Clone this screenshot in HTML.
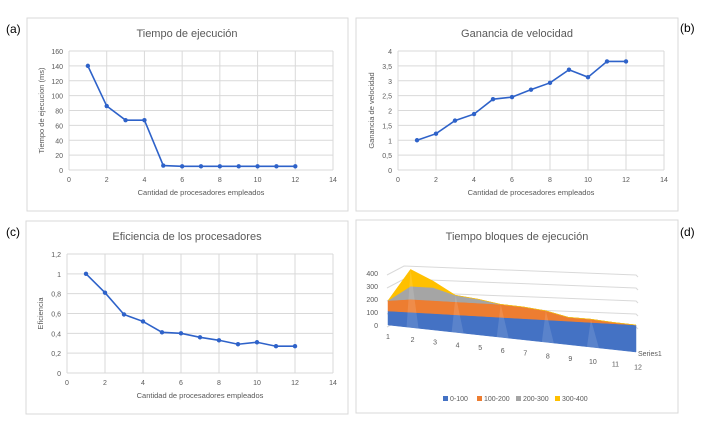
<!DOCTYPE html>
<html><head><meta charset="utf-8"><style>
body{margin:0;background:#fff;width:702px;height:432px;overflow:hidden;font-family:"Liberation Sans",sans-serif}
svg{position:absolute;left:0;top:0}
</style></head><body>
<svg id="s" width="702" height="432" xmlns="http://www.w3.org/2000/svg" font-family="Liberation Sans, sans-serif"></svg>
<script>
const cats=[1,2,3,4,5,6,7,8,9,10,11,12];
const timeVals=[140,86,67,67,6,5,5,5,5,5,5,5];
const speedVals=[1,1.22,1.66,1.88,2.38,2.45,2.7,2.93,3.37,3.12,3.65,3.65];
const effVals=[1,0.81,0.59,0.52,0.41,0.40,0.36,0.33,0.29,0.31,0.27,0.27];
const xTicks=[0,2,4,6,8,10,12,14];
const timeTicks=[0,20,40,60,80,100,120,140,160];
const speedTicks=[0,0.5,1,1.5,2,2.5,3,3.5,4];
const effTicks=[0,0.2,0.4,0.6,0.8,1,1.2];
const blockVals=[180,430,350,250,230,200,190,170,130,125,110,100];
const blockBands=[[0,100,'#4472c4','0-100'],[100,200,'#ed7d31','100-200'],[200,300,'#a5a5a5','200-300'],[300,500,'#ffc000','300-400']];
const blockTicks=[0,100,200,300,400];

const S=document.getElementById('s');
function el(t,a,p){const e=document.createElementNS('http://www.w3.org/2000/svg',t);for(const k in a)e.setAttribute(k,a[k]);(p||S).appendChild(e);return e;}
function fmt(v){return String(v).replace('.',',');}

function lineChart(o){
  const g=el('g',{});
  
  
  const fr=el('rect',{x:o.bx,y:o.by,width:o.bw,height:o.bh,fill:'#fff',stroke:'#d9d9d9'},g);
  
  
  const X=v=>o.x0+(v-0)/14*(o.x1-o.x0);
  const ymax=o.yt[o.yt.length-1];
  const Y=v=>o.y0-(v/ymax)*(o.y0-o.y1);
  o.yt.forEach(t=>{const l=el('line',{x1:o.x0,x2:o.x1,y1:Y(t),y2:Y(t),stroke:'#d9d9d9','stroke-width':1},g);
    
    const tx=el('text',{x:o.x0-6,y:Y(t)+3,'font-size':7,fill:'#595959','text-anchor':'end'},g);tx.textContent=fmt(t);
    });
  xTicks.forEach(t=>{const l=el('line',{x1:X(t),x2:X(t),y1:o.y1,y2:o.y0,stroke:'#d9d9d9'},g);
    
    const tx=el('text',{x:X(t),y:o.y0+12,'font-size':7,fill:'#595959','text-anchor':'middle'},g);tx.textContent=t;
    });
  const pts=cats.map((c,i)=>X(c)+','+Y(o.vals[i])).join(' ');
  const pl=el('polyline',{points:pts,fill:'none',stroke:'#2e62c9','stroke-width':1.6},g);
  
  cats.forEach((c,i)=>{const m=el('circle',{cx:X(c),cy:Y(o.vals[i]),r:2.2,fill:'#2e62c9'},g);
    });
  const t=el('text',{x:o.tx,y:o.ty,'font-size':11,fill:'#595959','text-anchor':'middle'},g);t.textContent=o.title;
  
  const xt=el('text',{x:(o.x0+o.x1)/2,y:o.y0+25,'font-size':7.5,fill:'#595959','text-anchor':'middle'},g);xt.textContent='Cantidad de procesadores empleados';
  
  const yt=el('text',{x:o.ytx,y:(o.y0+o.y1)/2,'font-size':7.5,fill:'#595959','text-anchor':'middle',transform:`rotate(-90 ${o.ytx} ${(o.y0+o.y1)/2})`},g);yt.textContent=o.ytitle;
  
  const lb=el('text',{x:o.lx,y:o.ly,'font-size':12,fill:'#000'},g);lb.textContent=o.label;
  
}
lineChart({name:'chart-a',bx:27,by:18,bw:321,bh:193,x0:69,x1:333,y0:170,y1:51,yt:timeTicks,vals:timeVals,title:'Tiempo de ejecución',tx:187,ty:37,ytitle:'Tiempo de ejecucion (ms)',ytx:44,label:'(a)',lx:6,ly:33});
lineChart({name:'chart-b',bx:356,by:18,bw:322,bh:193,x0:398,x1:664,y0:170,y1:51,yt:speedTicks,vals:speedVals,title:'Ganancia de velocidad',tx:517,ty:37,ytitle:'Ganancia de velocidad',ytx:374,label:'(b)',lx:680,ly:32});
lineChart({name:'chart-c',bx:26,by:221,bw:322,bh:193,x0:67,x1:333,y0:373,y1:254,yt:effTicks,vals:effVals,title:'Eficiencia de los procesadores',tx:187,ty:240,ytitle:'Eficiencia',ytx:43,label:'(c)',lx:6,ly:236});

// 3D-ish chart (d)
(function(){
  const g=el('g',{});
  
  
  const fr=el('rect',{x:356,y:220,width:322,height:193,fill:'#fff',stroke:'#d9d9d9'},g);
  
  const t=el('text',{x:517,y:240,'font-size':11,fill:'#595959','text-anchor':'middle'},g);t.textContent='Tiempo bloques de ejecución';
  
  const lb=el('text',{x:680,y:236,'font-size':12,fill:'#000'},g);lb.textContent='(d)';
  
  const n=cats.length;
  const f=c=>(c-1)/(n-1);
  const CX=c=>388+f(c)*248;
  const base=c=>325+f(c)*27;
  const blueTop=c=>311+f(c)*14;
  const Yv=(v,c)=>v<=100?base(c)-(v/100)*(base(c)-blueTop(c)):blueTop(c)-(v-100)*0.13;
  // back wall gridlines
  blockTicks.forEach(v=>{const y=325-v*0.13;
    const l=el('polyline',{points:`387,${y+2} 404,${y-7} 636,${y+2} 638,${y+4}`,fill:'none',stroke:'#d9d9d9'},g);
    
    const tx=el('text',{x:378,y:y+3,'font-size':7,fill:'#595959','text-anchor':'end'},g);tx.textContent=v;
    });
  blockBands.forEach(b=>{
    const up=[],dn=[];
    cats.forEach((c,i)=>{const v=blockVals[i];
      up.push(CX(c)+','+Yv(Math.min(v,b[1]),c));dn.unshift(CX(c)+','+Yv(Math.min(v,b[0]),c));});
    const p=el('polygon',{points:up.concat(dn).join(' '),fill:b[2],stroke:b[2],'stroke-width':0.5},g);
    
  });
  cats.forEach((c,i)=>{if(i%2===1&&i<n-1){const p=el('polygon',{points:`${CX(c)},${Yv(blockVals[i],c)} ${CX(c)+8},${base(c)+1} ${CX(c)-4},${base(c)}`,fill:'#fff',opacity:0.12},g);
    }});
  cats.forEach(c=>{const tx=el('text',{x:CX(c)+(c===1?0:2),y:base(c)+14+(c-1)*0.3,'font-size':7,fill:'#595959','text-anchor':'middle'},g);tx.textContent=c;
    });
  const s1=el('text',{x:638,y:356,'font-size':7,fill:'#595959'},g);s1.textContent='Series1';
  
  const lxs=[443,477,516,555];
  blockBands.forEach((b,i)=>{const lx=lxs[i];
    const r=el('rect',{x:lx,y:396,width:5,height:5,fill:b[2]},g);
    
    const tx=el('text',{x:lx+7,y:401,'font-size':7,fill:'#595959'},g);tx.textContent=b[3];
    
  });
})();
</script>
</body></html>
